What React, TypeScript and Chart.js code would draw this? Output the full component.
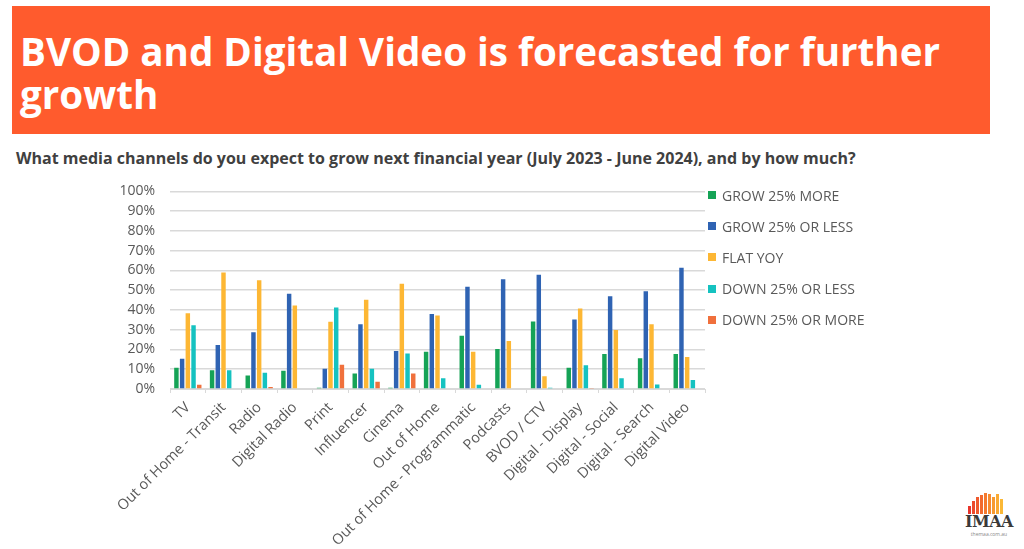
import React, { useEffect, useRef } from "react";
import { Chart, registerables } from "chart.js";

Chart.register(...registerables);

const categories = [
  "TV",
  "Out of Home - Transit",
  "Radio",
  "Digital Radio",
  "Print",
  "Influencer",
  "Cinema",
  "Out of Home",
  "Out of Home - Programmatic",
  "Podcasts",
  "BVOD / CTV",
  "Digital - Display",
  "Digital - Social",
  "Digital - Search",
  "Digital Video",
];

const seriesNames = [
  "GROW 25% MORE",
  "GROW 25% OR LESS",
  "FLAT YOY",
  "DOWN 25% OR LESS",
  "DOWN 25% OR MORE",
];

const grow25More = [10.7, 9.5, 6.8, 9.2, 0.6, 7.8, 0.6, 18.8, 27, 20.2, 34.2, 10.7, 17.7, 15.5, 17.7];
const grow25OrLess = [15.3, 22.3, 28.7, 48.2, 10.2, 32.8, 19.2, 38, 51.7, 55.5, 57.8, 35.2, 47, 49.5, 61.3];
const flatYoy = [38.3, 59, 55, 42.3, 34, 45.2, 53.3, 37.2, 18.8, 24.3, 6.5, 40.7, 29.8, 32.8, 16.2];
const down25OrLess = [32.3, 9.5, 8.2, 0, 41.3, 10.2, 18, 5.5, 2.2, 0, 0.6, 12, 5.5, 2.3, 4.5];
const down25OrMore = [2.2, 0, 1, 0, 12.3, 3.7, 7.8, 0, 0, 0, 0, 0.5, 0, 0, 0];

const yTicks = [0, 10, 20, 30, 40, 50, 60, 70, 80, 90, 100];

const colors = ["#15A356", "#2F63B3", "#FDB734", "#15C2C0", "#F0703C"];

const seriesValues = [grow25More, grow25OrLess, flatYoy, down25OrLess, down25OrMore];

const TITLE_LINE_1 = "BVOD and Digital Video is forecasted for further";
const TITLE_LINE_2 = "growth";
const SUBTITLE =
  "What media channels do you expect to grow next financial year (July 2023 - June 2024), and by how much?";

const logoBars = [
  { h: 8, c: "#E8352B" },
  { h: 13, c: "#EC4A2C" },
  { h: 17, c: "#EF5A2D" },
  { h: 19, c: "#F26A2E" },
  { h: 21, c: "#F47A2F" },
  { h: 20, c: "#F68A30" },
  { h: 17, c: "#F89A31" },
  { h: 20, c: "#FAAA33" },
  { h: 15, c: "#FBB836" },
];

export default function App() {
  const canvasRef = useRef<HTMLCanvasElement | null>(null);

  useEffect(() => {
    const canvas = canvasRef.current;
    if (!canvas) return;
    const chart = new Chart(canvas, {
      type: "bar",
      data: {
        labels: categories,
        datasets: seriesNames.map((name, i) => ({
          label: name,
          data: seriesValues[i],
          backgroundColor: colors[i],
          borderWidth: 0,
          barPercentage: 0.78,
          categoryPercentage: 0.8,
        })),
      },
      options: {
        animation: false,
        responsive: true,
        maintainAspectRatio: false,
        layout: { padding: { top: 9, right: 5, left: 0, bottom: 0 } },
        plugins: {
          legend: { display: false },
          tooltip: { enabled: false },
        },
        scales: {
          x: {
            grid: {
              offset: true,
              drawOnChartArea: false,
              drawTicks: true,
              tickLength: 4,
              color: "#D9D9D9",
            },
            border: { color: "#D9D9D9", width: 1 },
            ticks: {
              autoSkip: false,
              minRotation: 45,
              maxRotation: 45,
              padding: 6,
              color: "#595959",
              font: { family: "'Open Sans', sans-serif", size: 14.5 },
            },
            afterFit: (scale: any) => {
              scale.height = 160;
            },
          },
          y: {
            min: 0,
            max: 100,
            afterBuildTicks: (scale: any) => {
              scale.ticks = yTicks.map((v) => ({ value: v }));
            },
            grid: {
              color: "#D9D9D9",
              lineWidth: 1.5,
              drawTicks: false,
            },
            border: { display: false },
            ticks: {
              autoSkip: false,
              padding: 15,
              color: "#595959",
              font: { family: "'Open Sans', sans-serif", size: 14 },
              callback: (v: any) => v + "%",
            },
            afterFit: (scale: any) => {
              scale.width = 70;
            },
          },
        },
      },
    });
    return () => chart.destroy();
  }, []);

  return (
    <div
      style={{
        position: "fixed",
        left: 0,
        top: 0,
        width: 1024,
        height: 549,
        background: "#FFFFFF",
        overflow: "hidden",
        fontFamily: "'Open Sans', sans-serif",
      }}
    >
      <div
        style={{
          position: "absolute",
          left: 12,
          top: 6,
          width: 978,
          height: 128,
          background: "#FF5B2D",
        }}
      >
        <div
          style={{
            position: "absolute",
            left: 8,
            top: 24,
            color: "#FFFFFF",
            fontFamily: "'Open Sans', sans-serif",
            fontWeight: 700,
            fontSize: 38.6,
            lineHeight: "43px",
            whiteSpace: "nowrap",
          }}
        >
          <div>{TITLE_LINE_1}</div>
          <div>{TITLE_LINE_2}</div>
        </div>
      </div>
      <div
        style={{
          position: "absolute",
          left: 16,
          top: 147,
          color: "#404040",
          fontFamily: "'Open Sans', sans-serif",
          fontWeight: 700,
          fontSize: 16,
          whiteSpace: "nowrap",
        }}
      >
        {SUBTITLE}
      </div>
      <div style={{ position: "absolute", left: 100, top: 168, width: 610, height: 381 }}>
        <canvas ref={canvasRef} />
      </div>
      {seriesNames.map((name, i) => (
        <div
          key={name}
          style={{
            position: "absolute",
            left: 708,
            top: 186 + i * 31.2,
            height: 18,
            display: "flex",
            alignItems: "center",
            whiteSpace: "nowrap",
          }}
        >
          <div style={{ width: 8, height: 8, background: colors[i], marginRight: 6 }} />
          <span style={{ color: "#595959", fontSize: 14 }}>{name}</span>
        </div>
      ))}
      <div
        style={{
          position: "absolute",
          left: 968,
          top: 492,
          height: 22,
          display: "flex",
          alignItems: "flex-end",
          gap: 1.5,
        }}
      >
        {logoBars.map((b, i) => (
          <div key={i} style={{ width: 2.5, height: b.h, background: b.c }} />
        ))}
      </div>
      <div
        style={{
          position: "absolute",
          left: 959,
          top: 513,
          width: 60,
          textAlign: "center",
          color: "#3A3A3A",
          fontFamily: "'DejaVu Serif', serif",
          fontWeight: 700,
          fontSize: 16,
          lineHeight: "18px",
          letterSpacing: -0.5,
        }}
      >
        IMAA
      </div>
      <div
        style={{
          position: "absolute",
          left: 959,
          top: 531,
          width: 60,
          textAlign: "center",
          color: "#888888",
          fontSize: 5,
          lineHeight: "6px",
        }}
      >
        themaa.com.au
      </div>
    </div>
  );
}
